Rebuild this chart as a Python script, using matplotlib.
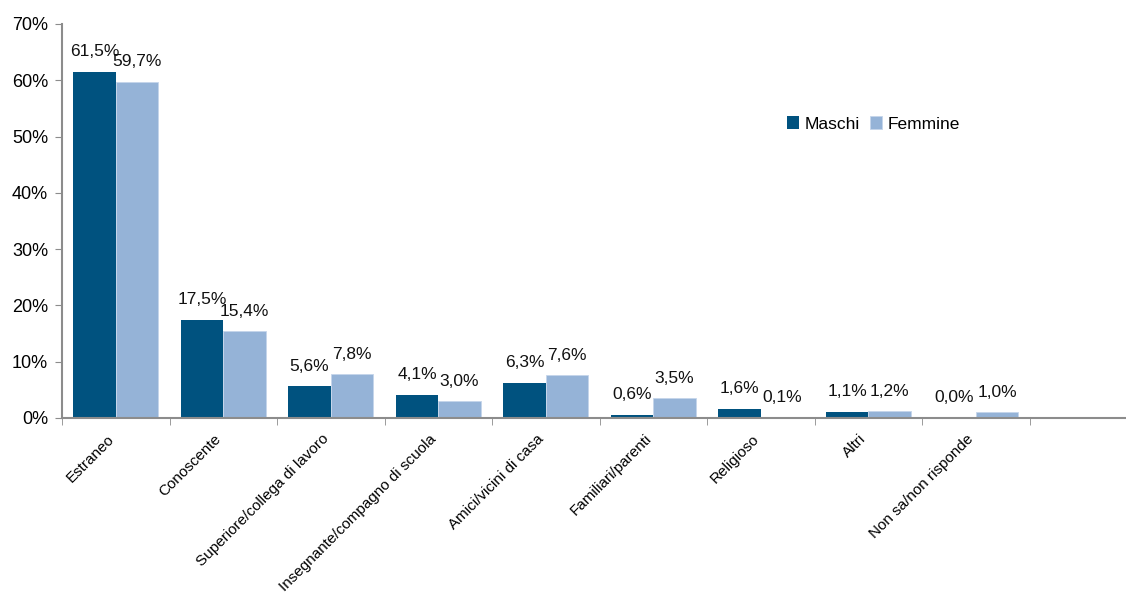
import numpy as np
import matplotlib.pyplot as plt
from matplotlib.ticker import FuncFormatter
from matplotlib.transforms import ScaledTranslation

plt.rcParams['font.family'] = ['Liberation Sans', 'DejaVu Sans']

categories = ['Estraneo', 'Conoscente', 'Superiore/collega di lavoro',
              'Insegnante/compagno di scuola', 'Amici/vicini di casa',
              'Familiari/parenti', 'Religioso', 'Altri', 'Non sa/non risponde']
maschi = [61.5, 17.5, 5.6, 4.1, 6.3, 0.6, 1.6, 1.1, 0.0]
femmine = [59.7, 15.4, 7.8, 3.0, 7.6, 3.5, 0.1, 1.2, 1.0]
yticks = [0, 10, 20, 30, 40, 50, 60, 70]

c_m = '#00527f'
c_f = '#95b3d7'
axis_col = '#8c8c8c'

fig = plt.figure(figsize=(11.26, 5.95), dpi=100)
ax = fig.add_axes([62 / 1126, 177 / 595, 1075 / 1126, 394 / 595])

x = np.arange(len(categories))
w = 0.395
bm = ax.bar(x - w / 2, maschi, w, color=c_m, label='Maschi', zorder=2)
bf = ax.bar(x + w / 2, femmine, w, color=c_f, edgecolor='#c5d5ea', linewidth=0.6,
            label='Femmine', zorder=2)

def fmt(v):
    return ('%.1f%%' % v).replace('.', ',')

for bars, vals in ((bm, maschi), (bf, femmine)):
    for b, v in zip(bars, vals):
        ax.annotate(fmt(v), (b.get_x() + b.get_width() / 2, v),
                    xytext=(0, 9), textcoords='offset points',
                    ha='center', va='bottom', fontsize=12.5, color='#111111')

ax.set_xlim(-0.5, 9.5)
ax.set_ylim(0, 70)
ax.set_yticks(yticks)
ax.yaxis.set_major_formatter(FuncFormatter(lambda v, p: '%d%%' % v))
ax.tick_params(axis='y', labelsize=13, length=5, color=axis_col, direction='out', pad=5)

ax.set_xticks(x)
ax.set_xticklabels(categories, rotation=45, ha='right', rotation_mode='anchor', fontsize=11)
ax.tick_params(axis='x', which='major', length=0, pad=10)
shift = ScaledTranslation(-9 / 100, 0, fig.dpi_scale_trans)
for lab in ax.get_xticklabels():
    lab.set_transform(lab.get_transform() + shift)
ax.set_xticks(np.arange(-0.5, 9.5, 1.0), minor=True)
ax.tick_params(axis='x', which='minor', length=5, color=axis_col, direction='out')

for s in ('top', 'right'):
    ax.spines[s].set_visible(False)
for s in ('left', 'bottom'):
    ax.spines[s].set_color(axis_col)
    ax.spines[s].set_linewidth(1.5)

ax.legend(loc='upper left', bbox_to_anchor=(0.66, 0.805), ncol=2, frameon=False,
          fontsize=12.5, handlelength=0.7, handleheight=0.7, handletextpad=0.3,
          columnspacing=0.6)

fig.savefig('out.png', dpi=100)
